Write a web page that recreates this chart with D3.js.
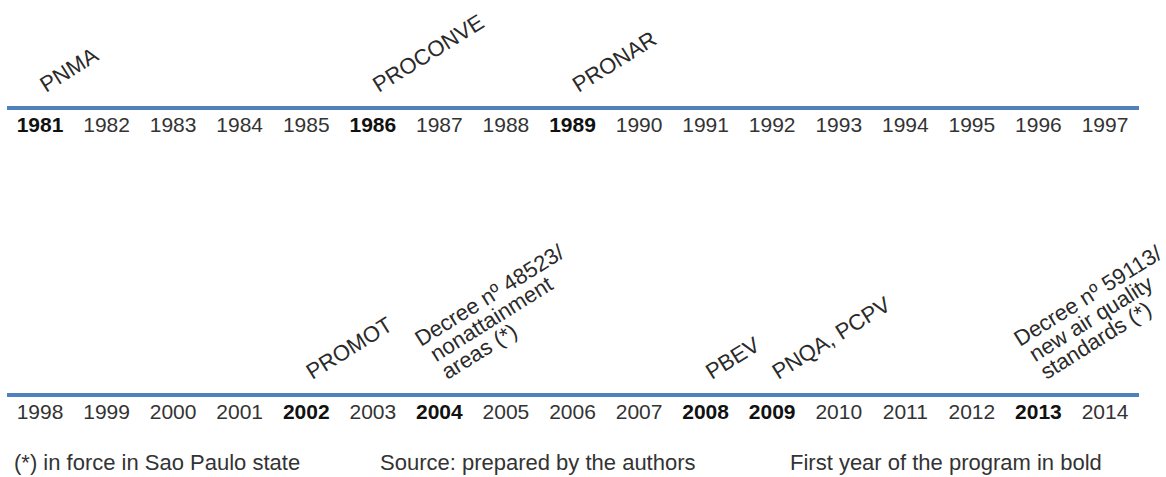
<!DOCTYPE html>
<html>
<head>
<meta charset="utf-8">
<script src="https://cdn.jsdelivr.net/npm/d3@7"></script>
<style>
  body { margin: 0; background: #fff; }
  svg text { font-family: Arial, "Liberation Sans", sans-serif; }
  .year { font-size: 21px; fill: #333; }
  .year.bold { font-weight: bold; fill: #111; }
  .event { font-size: 22px; fill: #2a2a2a; }
  .note { font-size: 22px; fill: #333; }
</style>
</head>
<body>
<div class="chart"></div>
<script>
// timeline data
var yearsTop = [1981, 1982, 1983, 1984, 1985, 1986, 1987, 1988, 1989, 1990, 1991, 1992, 1993, 1994, 1995, 1996, 1997];
var yearsBottom = [1998, 1999, 2000, 2001, 2002, 2003, 2004, 2005, 2006, 2007, 2008, 2009, 2010, 2011, 2012, 2013, 2014];
var boldYears = [1981, 1986, 1989, 2002, 2004, 2008, 2009, 2013];

var eventYears = [1981, 1986, 1989, 2002, 2004, 2008, 2009, 2013];
var eventLabels = [
  ["PNMA"],
  ["PROCONVE"],
  ["PRONAR"],
  ["PROMOT"],
  ["Decree nº 48523/", "nonattainment", "areas (*)"],
  ["PBEV"],
  ["PNQA, PCPV"],
  ["Decree nº 59113/", "new air quality", "standards (*)"]
];

var notes = ["(*) in force in Sao Paulo state", "Source: prepared by the authors", "First year of the program in bold"];

//==================================
// Set up the chart
//==================================
var svgWidth = 1166;
var svgHeight = 477;
var angle = -32;
var lineHeight = 21;

var svg = d3.select(".chart")
  .append("svg")
  .attr("width", svgWidth)
  .attr("height", svgHeight);

// one row per block of years
var rows = [
  { years: yearsTop, lineY: 108 },
  { years: yearsBottom, lineY: 395 }
];

rows.forEach(function(row) {
  var x = d3.scalePoint().domain(row.years).range([40, 1105]);
  var g = svg.append("g");

  // the timeline bar
  g.append("line")
    .attr("x1", 7)
    .attr("x2", 1139)
    .attr("y1", row.lineY)
    .attr("y2", row.lineY)
    .attr("stroke", "#4f81bd")
    .attr("stroke-width", 4);

  // year labels under the bar
  g.selectAll(".year")
    .data(row.years)
    .enter()
    .append("text")
    .attr("class", function(d) { return boldYears.indexOf(d) > -1 ? "year bold" : "year"; })
    .attr("x", function(d) { return x(d); })
    .attr("y", row.lineY + 24)
    .attr("text-anchor", "middle")
    .text(function(d) { return d; });

  // rotated program names above the bar
  eventYears.forEach(function(yr, i) {
    if (row.years.indexOf(yr) < 0) return;
    var lines = eventLabels[i];
    var n = lines.length;
    var label = g.append("g")
      .attr("transform", "translate(" + (x(yr) + (n > 1 ? 8 : 6)) + "," + (row.lineY - 15) + ") rotate(" + angle + ")");

    // last line sits on the anchor, earlier lines stack upward
    var t = label.append("text").attr("class", "event");
    lines.forEach(function(s, j) {
      t.append("tspan")
        .attr("x", (j === 0 && n > 1) ? -5 : 0)
        .attr("y", -(n - 1 - j) * lineHeight)
        .text(s);
    });
  });
});

// footnotes
var noteX = [14, 380, 790];
svg.selectAll(".note")
  .data(notes)
  .enter()
  .append("text")
  .attr("class", "note")
  .attr("x", function(d, i) { return noteX[i]; })
  .attr("y", 470)
  .text(function(d) { return d; });
</script>
</body>
</html>
